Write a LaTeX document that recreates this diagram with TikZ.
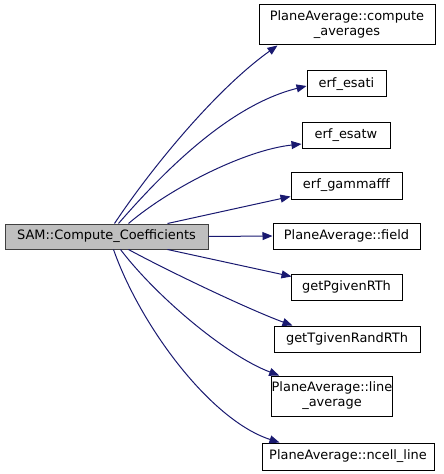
\documentclass[tikz,border=0pt]{standalone}
\usepackage{fontspec}
\setmainfont{DejaVu Sans}
\usetikzlibrary{arrows.meta,calc}
\definecolor{edgeblue}{RGB}{25,25,112}
\definecolor{mainfill}{RGB}{191,191,191}
\definecolor{mainborder}{RGB}{64,64,64}
\tikzset{
  fbox/.style={draw=black, line width=0.75pt, fill=white, inner sep=0pt, align=center,
    font=\fontsize{9.7}{11.2}\selectfont},
  mainbox/.style={fbox, fill=mainfill, draw=mainborder},
  calls/.style={draw=edgeblue, line width=0.75pt,
    -{Triangle[length=7.5pt,width=6pt,fill=edgeblue]}},
}
\begin{document}
\begin{tikzpicture}[x=0.75pt,y=-0.75pt]
\useasboundingbox (0,0) rectangle (443,474);
\node[mainbox, minimum width=203*0.75pt, minimum height=25*0.75pt] (main) at (106.5,236.5) {SAM::Compute\_Coefficients};
\node[fbox, minimum width=176*0.75pt, minimum height=40*0.75pt] (ca) at (347,25) {PlaneAverage::compute\\\_averages};
\node[fbox, minimum width=79*0.75pt, minimum height=26*0.75pt] (esati) at (346.5,84) {erf\_esati};
\node[fbox, minimum width=88*0.75pt, minimum height=26*0.75pt] (esatw) at (346,135.5) {erf\_esatw};
\node[fbox, minimum width=111*0.75pt, minimum height=27*0.75pt] (gam) at (346.5,185.5) {erf\_gammafff};
\node[fbox, minimum width=147*0.75pt, minimum height=26*0.75pt] (field) at (346.5,236) {PlaneAverage::field};
\node[fbox, minimum width=111*0.75pt, minimum height=26*0.75pt] (getp) at (346.5,287) {getPgivenRTh};
\node[fbox, minimum width=146*0.75pt, minimum height=26*0.75pt] (gett) at (347,339) {getTgivenRandRTh};
\node[fbox, minimum width=114*0.75pt, minimum height=40*0.75pt] (la) at (332,396) {PlaneAverage::line\\\_average};
\node[fbox, minimum width=172*0.75pt, minimum height=27*0.75pt] (nc) at (348,456.5) {PlaneAverage::ncell\_line};

\draw[calls] ($(main.north west)+(110,0)$) .. controls (150,170) and (215,90) .. ($(ca.south west)+(19,0)$);
\draw[calls] ($(main.north west)+(114,0)$) .. controls (165,170) and (230,105) .. ($(esati.west)+(0,2)$);
\draw[calls] ($(main.north west)+(124,0)$) .. controls (170,188) and (245,150) .. ($(esatw.south west)+(0,-5)$);
\draw[calls] ($(main.north west)+(163,0)$) -- ($(gam.south west)+(0,-3)$);
\draw[calls] (main.east) -- (field.west);
\draw[calls] ($(main.south west)+(163,0)$) -- ($(getp.north west)+(1,3)$);
\draw[calls] ($(main.south west)+(124,0)$) .. controls (170,272) and (250,310) .. ($(gett.north west)+(19,0)$);
\draw[calls] ($(main.south west)+(116,0)$) .. controls (155,295) and (225,355) .. ($(la.north west)+(8,0)$);
\draw[calls] ($(main.south west)+(109,0)$) .. controls (140,325) and (210,420) .. ($(nc.north west)+(18,0)$);
\end{tikzpicture}
\end{document}
